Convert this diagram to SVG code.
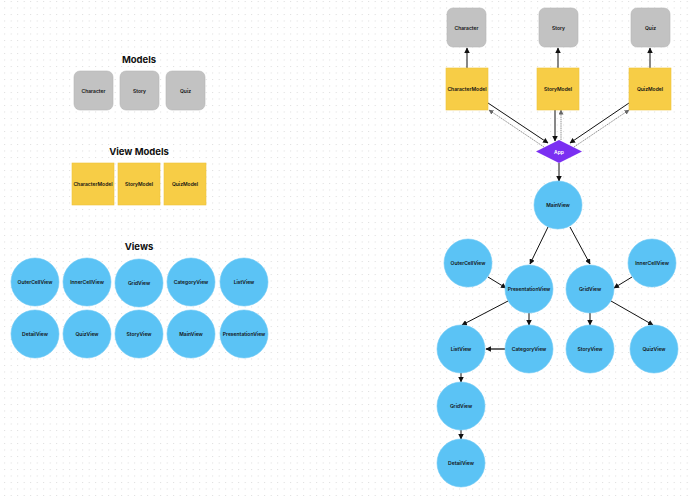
<svg xmlns="http://www.w3.org/2000/svg" width="690" height="496" viewBox="0 0 690 496">
<defs>
<pattern id="dots" x="4.2" y="1" width="6.5" height="6.5" patternUnits="userSpaceOnUse">
<rect x="0" y="0" width="1" height="1" fill="#dadada"/>
</pattern>
<marker id="ah" viewBox="0 0 10 10" refX="9" refY="5" markerWidth="5.5" markerHeight="5.5" markerUnits="userSpaceOnUse" orient="auto">
<path d="M0,0 L10,5 L0,10 z" fill="#111"/>
</marker>
<marker id="ahg" viewBox="0 0 10 10" refX="9" refY="5" markerWidth="5" markerHeight="5" markerUnits="userSpaceOnUse" orient="auto">
<path d="M0,0 L10,5 L0,10 z" fill="#666"/>
</marker>
</defs>
<style>
.title{font-family:Inter,"Liberation Sans",sans-serif;font-weight:700;font-size:9.5px;fill:#111;text-anchor:middle}
.lbl{font-family:Inter,"Liberation Sans",sans-serif;font-weight:600;font-size:5px;fill:#111;text-anchor:middle;dominant-baseline:central}
.wl{fill:#fff}
.model{fill:#C2C2C2;stroke:#b5b5b5;stroke-width:0.6}
.vm{fill:#F7CD46;stroke:#efc23a;stroke-width:0.6}
.view{fill:#5BC3F5;stroke:#6fcaf5;stroke-width:0.6}
.app{fill:#7B2FF2}
.c{stroke:#111;stroke-width:1;fill:none;marker-end:url(#ah)}
.cg{stroke:#777;stroke-width:0.8;fill:none;stroke-dasharray:1.5 0.7;marker-end:url(#ahg)}
.ct{stroke:#555;stroke-width:1.8;fill:none;marker-end:url(#ah)}
</style>
<rect width="690" height="496" fill="#fff"/>
<rect width="690" height="496" fill="url(#dots)"/>

<text class="title" x="139" y="63">Models</text>
<g id="l-character"><rect class="model" x="74" y="71" width="39" height="39" rx="6"/><text class="lbl" x="93.5" y="90.5">Character</text></g>
<g id="l-story"><rect class="model" x="120" y="71" width="39" height="39" rx="6"/><text class="lbl" x="139.5" y="90.5">Story</text></g>
<g id="l-quiz"><rect class="model" x="166" y="71" width="39" height="39" rx="6"/><text class="lbl" x="185.5" y="90.5">Quiz</text></g>

<text class="title" x="139" y="155">View Models</text>
<g id="l-charactermodel"><rect class="vm" x="72" y="163" width="42" height="42"/><text class="lbl" x="93" y="184">CharacterModel</text></g>
<g id="l-storymodel"><rect class="vm" x="118" y="163" width="42" height="42"/><text class="lbl" x="139" y="184">StoryModel</text></g>
<g id="l-quizmodel"><rect class="vm" x="164" y="163" width="42" height="42"/><text class="lbl" x="185" y="184">QuizModel</text></g>

<text class="title" x="139" y="250">Views</text>
<g id="l-outercellview"><circle class="view" cx="35" cy="282" r="24"/><text class="lbl" x="35" y="282">OuterCellView</text></g>
<g id="l-innercellview"><circle class="view" cx="87" cy="282" r="24"/><text class="lbl" x="87" y="282">InnerCellView</text></g>
<g id="l-gridview"><circle class="view" cx="139" cy="283" r="24"/><text class="lbl" x="139" y="283">GridView</text></g>
<g id="l-categoryview"><circle class="view" cx="191" cy="282" r="24"/><text class="lbl" x="191" y="282">CategoryView</text></g>
<g id="l-listview"><circle class="view" cx="244" cy="282" r="24"/><text class="lbl" x="244" y="282">ListView</text></g>
<g id="l-detailview"><circle class="view" cx="35" cy="334" r="24"/><text class="lbl" x="35" y="334">DetailView</text></g>
<g id="l-quizview"><circle class="view" cx="87" cy="334" r="24"/><text class="lbl" x="87" y="334">QuizView</text></g>
<g id="l-storyview"><circle class="view" cx="139" cy="334" r="24"/><text class="lbl" x="139" y="334">StoryView</text></g>
<g id="l-mainview"><circle class="view" cx="191" cy="334" r="24"/><text class="lbl" x="191" y="334">MainView</text></g>
<g id="l-presentationview"><circle class="view" cx="244" cy="334" r="24"/><text class="lbl" x="244" y="334">PresentationView</text></g>

<g id="connectors">
<line class="c" x1="467" y1="68" x2="467" y2="48"/>
<line class="c" x1="558" y1="68" x2="558" y2="48"/>
<line class="c" x1="650" y1="68" x2="650" y2="48"/>
<line class="c" x1="488" y1="103" x2="548" y2="143"/>
<line class="cg" x1="544" y1="147" x2="489" y2="110"/>
<line class="c" x1="555" y1="110" x2="555" y2="141"/>
<line class="cg" x1="561" y1="140" x2="561" y2="110"/>
<line class="c" x1="629" y1="103" x2="570" y2="143"/>
<line class="cg" x1="574" y1="147" x2="629" y2="110"/>
<line class="c" x1="559" y1="163" x2="559" y2="181"/>
<line class="c" x1="548" y1="227" x2="530" y2="264"/>
<line class="c" x1="570" y1="227" x2="590" y2="264"/>
<line class="c" x1="488" y1="277" x2="506" y2="288"/>
<line class="c" x1="632" y1="277" x2="614" y2="288"/>
<line class="c" x1="508" y1="301" x2="462" y2="325"/>
<line class="c" x1="529" y1="313" x2="529" y2="325"/>
<line class="c" x1="590" y1="313" x2="590" y2="325"/>
<line class="c" x1="611" y1="301" x2="653" y2="325"/>
<line class="ct" x1="505" y1="349" x2="486" y2="349"/>
<line class="c" x1="461" y1="373" x2="461" y2="382"/>
<line class="c" x1="461" y1="430" x2="461" y2="439"/>
</g>

<g id="character"><rect class="model" x="447" y="8" width="39" height="39" rx="6"/><text class="lbl" x="466.5" y="27.5">Character</text></g>
<g id="story"><rect class="model" x="539" y="8" width="39" height="39" rx="6"/><text class="lbl" x="558.5" y="27.5">Story</text></g>
<g id="quiz"><rect class="model" x="631" y="8" width="39" height="39" rx="6"/><text class="lbl" x="650.5" y="27.5">Quiz</text></g>
<g id="charactermodel"><rect class="vm" x="446" y="68" width="42" height="42"/><text class="lbl" x="467" y="89">CharacterModel</text></g>
<g id="storymodel"><rect class="vm" x="537" y="68" width="42" height="42"/><text class="lbl" x="558" y="89">StoryModel</text></g>
<g id="quizmodel"><rect class="vm" x="629" y="68" width="42" height="42"/><text class="lbl" x="650" y="89">QuizModel</text></g>
<g id="app"><path class="app" d="M559,140 L582,151.5 L559,163 L536,151.5 z"/><text class="lbl wl" x="559" y="151.5">App</text></g>
<g id="mainview"><circle class="view" cx="558" cy="205" r="24"/><text class="lbl" x="558" y="205">MainView</text></g>
<g id="outercellview"><circle class="view" cx="468" cy="263" r="24"/><text class="lbl" x="468" y="263">OuterCellView</text></g>
<g id="innercellview"><circle class="view" cx="652" cy="263" r="24"/><text class="lbl" x="652" y="263">InnerCellView</text></g>
<g id="presentationview"><circle class="view" cx="529" cy="289" r="24"/><text class="lbl" x="529" y="289">PresentationView</text></g>
<g id="gridview"><circle class="view" cx="590" cy="289" r="24"/><text class="lbl" x="590" y="289">GridView</text></g>
<g id="listview"><circle class="view" cx="461" cy="349" r="24"/><text class="lbl" x="461" y="349">ListView</text></g>
<g id="categoryview"><circle class="view" cx="529" cy="349" r="24"/><text class="lbl" x="529" y="349">CategoryView</text></g>
<g id="storyview"><circle class="view" cx="590" cy="349" r="24"/><text class="lbl" x="590" y="349">StoryView</text></g>
<g id="quizview"><circle class="view" cx="654" cy="349" r="24"/><text class="lbl" x="654" y="349">QuizView</text></g>
<g id="gridview2"><circle class="view" cx="461" cy="406" r="24"/><text class="lbl" x="461" y="406">GridView</text></g>
<g id="detailview"><circle class="view" cx="461" cy="463" r="24"/><text class="lbl" x="461" y="463">DetailView</text></g>
</svg>
